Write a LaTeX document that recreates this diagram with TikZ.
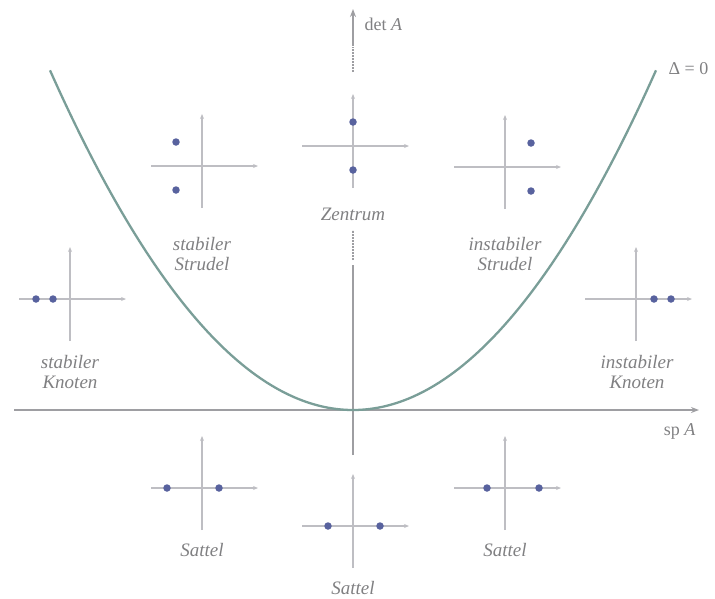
\documentclass[tikz,border=0pt]{standalone}
\usepackage{fontspec}
\setmainfont{Liberation Serif}
\usetikzlibrary{arrows.meta}
\definecolor{txtgray}{RGB}{128,128,130}
\definecolor{axgray}{RGB}{158,158,162}
\definecolor{minigray}{RGB}{190,190,195}
\definecolor{dotblue}{RGB}{88,98,158}
\definecolor{curveteal}{RGB}{122,158,152}
\tikzset{
  x=1pt, y=-1pt,
  mainaxis/.style={draw=axgray, line width=2.2pt},
  dottedaxis/.style={draw=axgray, line width=2pt, dash pattern=on 2pt off 1pt},
  miniaxis/.style={draw=minigray, line width=1.1pt},
  miniarrow/.style={-{Stealth[length=5pt,width=4pt]}},
  dot/.style={circle, fill=dotblue, inner sep=0pt, minimum size=7.5pt},
  lbl/.style={text=txtgray, align=center, font={\itshape\fontsize{19}{19.5}\selectfont}},
  axlbl/.style={text=txtgray, font={\fontsize{18}{20}\selectfont}},
  mini/.pic={
    \draw[miniaxis, miniarrow] (-51,0) -- (56,0);
    \draw[miniaxis, miniarrow] (0,42) -- (0,-52);
  }
}
\begin{document}
\begin{tikzpicture}
\useasboundingbox (0,0) rectangle (715,598);
% main axes
\coordinate (xl) at (14,410);
\coordinate (xr) at (699,410);
\draw[mainaxis, -{Stealth[length=8pt,width=6pt]}] (xl) -- (xr);
\coordinate (yb) at (353,455);
\coordinate (ym) at (353,265);
\draw[mainaxis] (yb) -- (ym);
\coordinate (yd1a) at (353,260);
\coordinate (yd1b) at (353,230);
\draw[dottedaxis] (yd1a) -- (yd1b);
\coordinate (yd2a) at (353,72);
\coordinate (yd2b) at (353,47);
\draw[dottedaxis] (yd2a) -- (yd2b);
\coordinate (yt0) at (353,46);
\coordinate (yt) at (353,9);
\draw[mainaxis, -{Stealth[length=8pt,width=6pt]}] (yt0) -- (yt);
\node[axlbl, anchor=west] (detA) at (361,24) {det \textit{A}};
\node[axlbl, anchor=east] (spA) at (699,431) {sp \textit{A}};
\node[axlbl, anchor=west] (delta) at (665,69) {Δ = 0};
% parabola
\draw[curveteal, line width=2.3pt] plot[domain=-303:303, samples=121] ({353+\x},{410-37*(\x/100)*(\x/100)});
% mini plots
\pic at (202,166) {mini};
\pic at (353,146) {mini};
\pic at (505,167) {mini};
\pic at (70,299) {mini};
\pic at (636,299) {mini};
\pic at (202,488) {mini};
\pic at (353,526) {mini};
\pic at (505,488) {mini};
% dots
\node[dot] (s1) at (176,142) {};
\node[dot] (s2) at (176,190) {};
\node[dot] (z1) at (353,122) {};
\node[dot] (z2) at (353,170) {};
\node[dot] (u1) at (531,143) {};
\node[dot] (u2) at (531,191) {};
\node[dot] (k1) at (36,299) {};
\node[dot] (k2) at (53,299) {};
\node[dot] (ik1) at (654,299) {};
\node[dot] (ik2) at (671,299) {};
\node[dot] (a1) at (167,488) {};
\node[dot] (a2) at (219,488) {};
\node[dot] (b1) at (328,526) {};
\node[dot] (b2) at (380,526) {};
\node[dot] (c1) at (487,488) {};
\node[dot] (c2) at (539,488) {};
% labels
\node[lbl] (lss) at (202,254) {stabiler\\Strudel};
\node[lbl] (lz) at (353,214) {Zentrum};
\node[lbl] (lis) at (505,254) {instabiler\\Strudel};
\node[lbl] (lsk) at (70,372) {stabiler\\Knoten};
\node[lbl] (lik) at (637,372) {instabiler\\Knoten};
\node[lbl] (la) at (202,550) {Sattel};
\node[lbl] (lb) at (353,588) {Sattel};
\node[lbl] (lc) at (505,550) {Sattel};
\end{tikzpicture}
\end{document}
